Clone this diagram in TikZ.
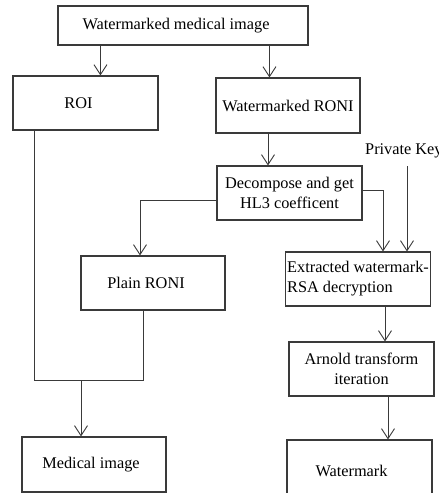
\documentclass[tikz,border=0pt]{standalone}
\usepackage{fontspec}
\setmainfont{Liberation Serif}
\usetikzlibrary{arrows.meta}
\definecolor{ln}{HTML}{3A3A3A}
\tikzset{
  box/.style={draw=ln, line width=1.1pt, rectangle, inner sep=2pt, align=center,
    font=\fontsize{16.3}{20}\selectfont, text=black},
  arr/.style={draw=ln, line width=1pt, -{Straight Barb[length=10pt,width=13pt,line width=0.9pt]}},
  ln/.style={draw=ln, line width=1pt},
}
\begin{document}
\begin{tikzpicture}[x=1pt,y=-1pt]
\clip (0,0) rectangle (439,493);
\fill[white] (0,0) rectangle (439,493);
\node[box, minimum width=250pt, minimum height=39pt] (top) at (183,25.5) {\hspace*{-14pt}Watermarked medical image};
\node[box, minimum width=145pt, minimum height=54pt] (roi) at (85.5,103) {\hspace*{-14pt}ROI};
\node[box, minimum width=144pt, minimum height=55pt] (wroni) at (288,105.5) {Watermarked RONI};
\node[box, minimum width=145pt, minimum height=54pt] (dec) at (289.5,193) {Decompose and get\\HL3 coefficent};
\node[box, minimum width=144pt, minimum height=54pt] (plain) at (153,283) {\hspace*{-14pt}Plain RONI};
\node[box, minimum width=144pt, minimum height=54pt, align=left] (ext) at (358,279) {Extracted watermark-\\RSA decryption};
\node[box, minimum width=145pt, minimum height=54pt] (arn) at (361.5,369) {Arnold transform\\iteration};
\node[box, minimum width=144pt, minimum height=55pt] (med) at (94,464.5) {\hspace*{-6pt}Medical image};
\node[box, minimum width=145pt, minimum height=62pt] (wm) at (359.5,471) {\hspace*{-16pt}Watermark};
\node[anchor=base west, inner sep=0pt, font=\fontsize{16.3}{20}\selectfont] (pk) at (365,154) {Private Key};
\coordinate (pkend) at (407,166);
\coordinate (j1) at (34,380);
\coordinate (j2) at (143,380);
\coordinate (jm) at (81,380);

\draw[arr] ([xshift=43pt]top.south west) -- ([xshift=43pt]top.south west |- roi.north);
\draw[arr] ([xshift=212pt]top.south west) -- ([xshift=212pt]top.south west |- wroni.north);
\draw[arr] ([xshift=-20pt]wroni.south) -- ([xshift=-20pt]wroni.south |- dec.north);
\draw[arr] ([yshift=-7pt]dec.west) -| ([xshift=-13pt]plain.north);
\draw[arr] ([yshift=3pt]dec.east) -| ([xshift=25pt]ext.north);
\draw[arr] (pkend) -- (pkend |- ext.north);
\draw[arr] ([xshift=27pt]ext.south) -- ([xshift=27pt]ext.south |- arn.north);
\draw[arr] ([xshift=26.5pt]arn.south) -- ([xshift=26.5pt]arn.south |- wm.north);
\draw[ln] ([xshift=-51.5pt]roi.south) -- (j1) -- (j2) -- ([xshift=-10pt]plain.south);
\draw[arr] (jm) -- (jm |- med.north);
\end{tikzpicture}
\end{document}
